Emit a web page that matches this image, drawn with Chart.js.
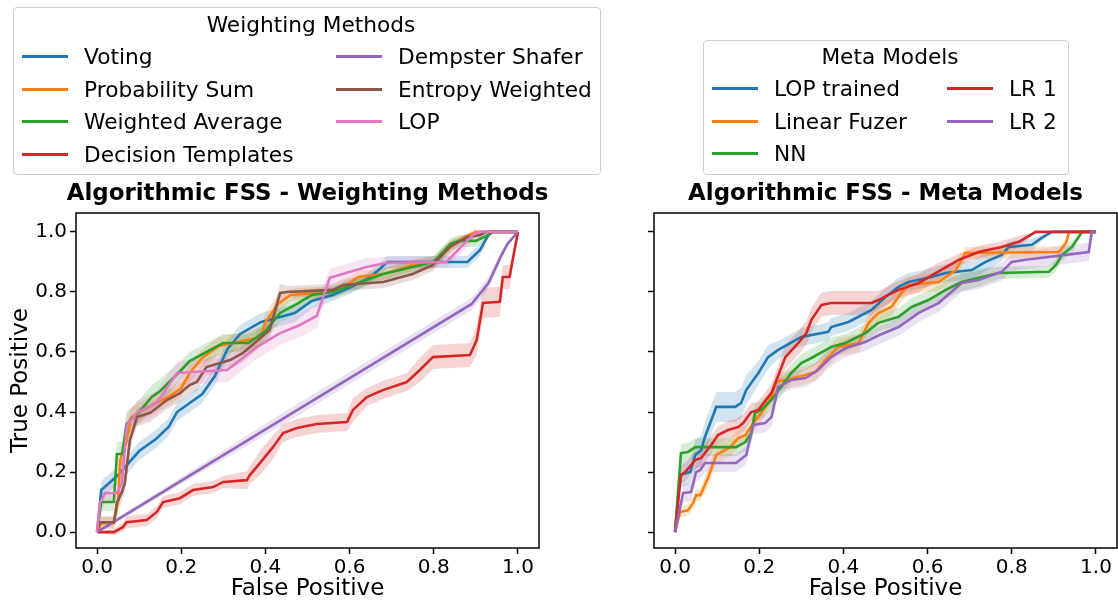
<!DOCTYPE html>
<html lang="en">
<head>
<meta charset="UTF-8">
<title>Algorithmic FSS - ROC</title>
<script src="https://cdn.jsdelivr.net/npm/chart.js"></script>
<style>
  body { margin: 0; background: #fff; font-family: 'DejaVu Sans', sans-serif; }
  #wrap { position: relative; width: 1118px; height: 604px; overflow: hidden; }
  canvas { position: absolute; top: 0; }
  .legend { position: absolute; box-sizing: border-box; border: 1px solid #cccccc; border-radius: 4px;
            background: rgba(255,255,255,0.8); font-size: 21.7px; color: #000; z-index: 2; }
  .legend .ttl { text-align: center; height: 30px; line-height: 30px; }
  .legend .items { display: grid; grid-auto-flow: column; }
  .legend .item { height: 32.7px; display: flex; align-items: center; white-space: nowrap; }
  .legend .swatch { width: 46px; height: 3px; margin-right: 16px; flex: none; }
</style>
</head>
<body>
<div id="wrap">
  <canvas id="weightingChart" width="615" height="604" style="left:0px"></canvas>
  <canvas id="metaChart" width="538" height="604" style="left:617px"></canvas>
  <div class="legend" id="weightingLegend" style="left:13px; top:7px; width:588px; height:168px; padding:2px 0 0 8px;"></div>
  <div class="legend" id="metaLegend" style="left:703px; top:40px; width:366px; height:135px; padding:1px 0 0 8px;"></div>
</div>

<script>
const FONT = "'DejaVu Sans', sans-serif";

const fprTicks = [0, 0.2, 0.4, 0.6, 0.8, 1.0];
const tprTicks = [0, 0.2, 0.4, 0.6, 0.8, 1.0];

const weightingNames = ['Voting', 'Probability Sum', 'Weighted Average', 'Decision Templates',
                        'Dempster Shafer', 'Entropy Weighted', 'LOP'];
const metaNames = ['LOP trained', 'Linear Fuzer', 'NN', 'LR 1', 'LR 2'];

const weightingColors = ['#1f77b4', '#ff7f0e', '#2ca02c', '#d62728', '#9467bd', '#8c564b', '#e377c2'];
const metaColors = ['#1f77b4', '#ff7f0e', '#2ca02c', '#d62728', '#9467bd'];

// each point: [false positive, mean true positive, std]
const voting = [[0,0,0],[0.01,0.14,0.03],[0.05,0.19,0.03],[0.1,0.27,0.03],[0.14,0.31,0.03],[0.17,0.35,0.03],
  [0.19,0.40,0.03],[0.25,0.46,0.03],[0.28,0.52,0.03],[0.31,0.61,0.03],[0.34,0.66,0.03],[0.39,0.70,0.03],
  [0.47,0.73,0.03],[0.51,0.77,0.025],[0.56,0.79,0.02],[0.61,0.82,0.02],[0.65,0.85,0.02],[0.69,0.90,0.02],
  [0.88,0.90,0.02],[0.91,0.94,0.02],[0.93,0.99,0.01],[0.94,1.0,0],[1,1,0]];
const probabilitySum = [[0,0,0],[0.01,0.03,0.02],[0.04,0.03,0.02],[0.05,0.10,0.03],[0.055,0.24,0.03],
  [0.07,0.30,0.04],[0.08,0.38,0.03],[0.1,0.40,0.03],[0.14,0.43,0.03],[0.17,0.45,0.03],[0.2,0.48,0.03],
  [0.22,0.53,0.03],[0.25,0.58,0.03],[0.29,0.62,0.03],[0.39,0.65,0.03],[0.40,0.70,0.03],[0.43,0.76,0.03],
  [0.46,0.79,0.02],[0.55,0.80,0.02],[0.58,0.81,0.02],[0.62,0.85,0.02],[0.68,0.86,0.02],[0.75,0.89,0.02],
  [0.8,0.90,0.02],[0.84,0.95,0.02],[0.87,0.98,0.01],[0.9,1.0,0],[1,1,0]];
const weightedAverage = [[0,0,0],[0.01,0.10,0.03],[0.04,0.10,0.03],[0.047,0.26,0.04],[0.06,0.26,0.04],
  [0.07,0.36,0.04],[0.1,0.40,0.04],[0.13,0.45,0.04],[0.15,0.47,0.04],[0.2,0.54,0.03],[0.22,0.57,0.03],
  [0.26,0.60,0.03],[0.3,0.63,0.03],[0.36,0.63,0.03],[0.4,0.67,0.03],[0.435,0.73,0.03],[0.475,0.76,0.03],
  [0.51,0.79,0.02],[0.56,0.80,0.02],[0.6,0.82,0.02],[0.68,0.86,0.02],[0.74,0.88,0.02],[0.8,0.90,0.02],
  [0.84,0.96,0.02],[0.86,0.97,0.02],[0.9,0.97,0.02],[0.93,0.99,0.01],[0.94,1.0,0],[1,1,0]];
const decisionTemplates = [[0,0,0],[0.04,0,0.01],[0.062,0.017,0.015],[0.07,0.033,0.02],[0.118,0.04,0.02],
  [0.142,0.067,0.02],[0.157,0.10,0.02],[0.197,0.113,0.02],[0.228,0.14,0.02],[0.276,0.15,0.02],[0.30,0.167,0.02],
  [0.356,0.173,0.03],[0.363,0.19,0.03],[0.387,0.23,0.04],[0.418,0.283,0.04],[0.442,0.33,0.03],[0.475,0.347,0.03],
  [0.522,0.36,0.03],[0.594,0.367,0.03],[0.608,0.407,0.04],[0.641,0.45,0.03],[0.679,0.473,0.03],[0.736,0.50,0.03],
  [0.767,0.54,0.04],[0.798,0.583,0.04],[0.886,0.59,0.04],[0.902,0.64,0.05],[0.917,0.763,0.05],[0.957,0.767,0.05],
  [0.964,0.85,0.04],[0.98,0.85,0.04],[1,1,0]];
const dempsterShafer = [[0,0,0.005],[0.45,0.385,0.02],[0.89,0.76,0.02],[0.93,0.83,0.02],[0.96,0.92,0.015],
  [0.975,0.96,0.01],[1,1,0]];
const entropyWeighted = [[0,0,0],[0.007,0.033,0.02],[0.04,0.033,0.02],[0.047,0.097,0.03],[0.059,0.133,0.03],
  [0.066,0.163,0.03],[0.078,0.307,0.04],[0.095,0.383,0.03],[0.126,0.397,0.03],[0.166,0.44,0.03],[0.197,0.463,0.03],
  [0.22,0.49,0.03],[0.237,0.50,0.03],[0.26,0.55,0.03],[0.316,0.573,0.03],[0.347,0.597,0.03],[0.41,0.673,0.03],
  [0.435,0.797,0.03],[0.451,0.80,0.02],[0.56,0.807,0.02],[0.585,0.823,0.02],[0.68,0.833,0.02],[0.75,0.86,0.02],
  [0.798,0.89,0.02],[0.838,0.95,0.02],[0.879,0.983,0.01],[0.91,0.99,0.01],[0.926,1.0,0],[1,1,0]];
const lop = [[0,0,0],[0.007,0.097,0.03],[0.019,0.13,0.03],[0.047,0.13,0.03],[0.059,0.163,0.03],[0.071,0.357,0.04],
  [0.097,0.40,0.04],[0.142,0.43,0.04],[0.19,0.53,0.04],[0.309,0.54,0.04],[0.34,0.573,0.04],[0.38,0.617,0.04],
  [0.435,0.663,0.04],[0.482,0.69,0.04],[0.522,0.72,0.04],[0.553,0.847,0.03],[0.64,0.883,0.03],[0.689,0.897,0.02],
  [0.83,0.90,0.02],[0.893,0.99,0.02],[0.91,1.0,0],[1,1,0]];

const lopTrained = [[0,0,0],[0.012,0.19,0.04],[0.036,0.20,0.04],[0.048,0.257,0.05],[0.062,0.273,0.05],
  [0.071,0.317,0.05],[0.098,0.417,0.05],[0.143,0.417,0.05],[0.157,0.43,0.05],[0.169,0.473,0.05],[0.198,0.53,0.04],
  [0.221,0.583,0.04],[0.245,0.607,0.03],[0.30,0.65,0.03],[0.364,0.667,0.03],[0.371,0.683,0.03],[0.412,0.70,0.03],
  [0.467,0.74,0.03],[0.50,0.783,0.03],[0.531,0.817,0.03],[0.555,0.833,0.03],[0.602,0.847,0.03],[0.643,0.863,0.03],
  [0.705,0.873,0.03],[0.738,0.90,0.03],[0.776,0.923,0.02],[0.793,0.95,0.02],[0.848,0.957,0.02],[0.871,0.98,0.01],
  [0.895,1.0,0],[1,1,0]];
const linearFuzer = [[0,0,0],[0.012,0.067,0.02],[0.031,0.073,0.02],[0.043,0.097,0.02],[0.05,0.123,0.02],
  [0.06,0.123,0.02],[0.079,0.183,0.03],[0.098,0.257,0.03],[0.131,0.283,0.03],[0.15,0.313,0.03],[0.167,0.323,0.03],
  [0.186,0.363,0.03],[0.205,0.397,0.03],[0.229,0.45,0.03],[0.24,0.50,0.03],[0.31,0.523,0.03],[0.333,0.533,0.03],
  [0.357,0.573,0.03],[0.388,0.617,0.03],[0.436,0.63,0.03],[0.46,0.697,0.03],[0.483,0.73,0.03],[0.514,0.75,0.03],
  [0.538,0.797,0.03],[0.555,0.823,0.03],[0.626,0.833,0.03],[0.667,0.873,0.03],[0.69,0.93,0.02],[0.912,0.933,0.02],
  [0.929,0.963,0.01],[0.936,1.0,0],[1,1,0]];
const nn = [[0,0,0],[0.014,0.263,0.03],[0.031,0.267,0.03],[0.048,0.283,0.03],[0.145,0.283,0.03],[0.167,0.30,0.03],
  [0.181,0.33,0.03],[0.19,0.397,0.03],[0.205,0.407,0.03],[0.229,0.44,0.03],[0.252,0.483,0.03],[0.276,0.53,0.03],
  [0.30,0.563,0.03],[0.324,0.58,0.03],[0.371,0.617,0.03],[0.405,0.63,0.03],[0.452,0.663,0.03],[0.483,0.697,0.03],
  [0.531,0.717,0.03],[0.562,0.75,0.03],[0.602,0.773,0.03],[0.643,0.807,0.03],[0.681,0.833,0.03],[0.721,0.847,0.03],
  [0.769,0.863,0.02],[0.888,0.867,0.02],[0.905,0.89,0.02],[0.919,0.923,0.02],[0.943,0.95,0.02],[0.967,1.0,0],[1,1,0]];
const lr1 = [[0,0,0],[0.014,0.19,0.03],[0.024,0.20,0.03],[0.048,0.24,0.03],[0.062,0.247,0.03],[0.086,0.29,0.03],
  [0.102,0.323,0.03],[0.126,0.34,0.03],[0.15,0.35,0.03],[0.162,0.363,0.03],[0.181,0.40,0.03],[0.198,0.407,0.03],
  [0.229,0.463,0.03],[0.262,0.583,0.04],[0.293,0.63,0.04],[0.312,0.663,0.04],[0.324,0.707,0.04],[0.348,0.757,0.04],
  [0.371,0.763,0.04],[0.467,0.763,0.04],[0.483,0.773,0.03],[0.507,0.79,0.03],[0.531,0.807,0.03],[0.579,0.83,0.03],
  [0.619,0.863,0.03],[0.674,0.907,0.02],[0.721,0.933,0.02],[0.776,0.95,0.02],[0.817,0.967,0.02],[0.857,1.0,0],[1,1,0]];
const lr2 = [[0,0,0],[0.019,0.13,0.03],[0.038,0.133,0.03],[0.05,0.20,0.03],[0.06,0.207,0.03],[0.071,0.23,0.03],
  [0.145,0.23,0.03],[0.169,0.257,0.03],[0.186,0.357,0.03],[0.214,0.363,0.03],[0.229,0.383,0.03],[0.245,0.483,0.03],
  [0.276,0.507,0.03],[0.31,0.513,0.03],[0.34,0.54,0.03],[0.371,0.583,0.03],[0.405,0.613,0.03],[0.452,0.633,0.03],
  [0.483,0.655,0.03],[0.531,0.683,0.03],[0.579,0.73,0.03],[0.626,0.763,0.03],[0.681,0.83,0.03],[0.721,0.84,0.03],
  [0.776,0.867,0.03],[0.80,0.90,0.03],[0.833,0.907,0.03],[0.983,0.933,0.03],[0.99,1.0,0],[1,1,0]];

const weightingCurves = [voting, probabilitySum, weightedAverage, decisionTemplates, dempsterShafer, entropyWeighted, lop];
const metaCurves = [lopTrained, linearFuzer, nn, lr1, lr2];

function rgba(hex, a) {
  const n = parseInt(hex.slice(1), 16);
  return 'rgba(' + (n >> 16) + ',' + ((n >> 8) & 255) + ',' + (n & 255) + ',' + a + ')';
}

function buildDatasets(names, curves, colors) {
  const sets = [];
  curves.forEach((c, i) => {
    // shaded std band: upper edge, then lower edge filled back to it
    sets.push({ label: names[i] + ' +std', isBand: true, data: c.map(p => ({ x: p[0], y: p[1] + p[2] })),
      borderWidth: 0, borderColor: 'transparent', pointRadius: 0, fill: false, order: 100 - i });
    sets.push({ label: names[i] + ' -std', isBand: true, data: c.map(p => ({ x: p[0], y: p[1] - p[2] })),
      borderWidth: 0, borderColor: 'transparent', pointRadius: 0, fill: '-1',
      backgroundColor: rgba(colors[i], 0.2), order: 100 - i });
  });
  curves.forEach((c, i) => {
    sets.push({ label: names[i], data: c.map(p => ({ x: p[0], y: p[1] })), borderColor: colors[i],
      backgroundColor: colors[i], borderWidth: 2.6, pointRadius: 0, fill: false, tension: 0, order: 50 - i });
  });
  return sets;
}

// axes frame on all four sides + subplot title centred over the plot area
const frame = {
  id: 'frame',
  afterDraw(chart, args, opts) {
    const { ctx, chartArea: a } = chart;
    ctx.save();
    ctx.strokeStyle = '#000';
    ctx.lineWidth = 1.5;
    ctx.strokeRect(a.left, a.top, a.right - a.left, a.bottom - a.top);
    ctx.fillStyle = '#000';
    ctx.font = 'bold 22.9px ' + FONT;
    ctx.textAlign = 'center';
    ctx.textBaseline = 'middle';
    ctx.fillText(opts.title, (a.left + a.right) / 2, a.top - 19);
    ctx.restore();
  }
};

function makeOptions(title, yWidth, padRight, withYLabels) {
  const tickGrid = { display: true, drawOnChartArea: false, drawTicks: true, tickLength: 6, tickWidth: 1.5, tickColor: '#000' };
  return {
    responsive: false,
    animation: false,
    layout: { padding: { top: 213, right: padRight, bottom: 0, left: 0 } },
    plugins: {
      legend: { display: false },
      tooltip: { enabled: false },
      frame: { title: title }
    },
    scales: {
      x: {
        type: 'linear', min: -0.05, max: 1.05,
        afterBuildTicks: s => { s.ticks = fprTicks.map(v => ({ value: v })); },
        afterFit: s => { s.height = 56; },
        grid: tickGrid, border: { display: false },
        ticks: { color: '#000', font: { family: FONT, size: 20 }, padding: 2, maxRotation: 0,
                 callback: v => v.toFixed(1) },
        title: { display: true, text: 'False Positive', color: '#000', font: { family: FONT, size: 23 },
                 padding: { top: 0, bottom: 1 } }
      },
      y: {
        type: 'linear', min: -0.053, max: 1.063,
        afterBuildTicks: s => { s.ticks = tprTicks.map(v => ({ value: v })); },
        afterFit: s => { s.width = yWidth; },
        grid: tickGrid, border: { display: false },
        ticks: { display: withYLabels, color: '#000', font: { family: FONT, size: 20 }, padding: 3,
                 callback: v => v.toFixed(1) },
        title: { display: withYLabels, text: 'True Positive', color: '#000', font: { family: FONT, size: 23 },
                 padding: { top: 7, bottom: 0 } }
      }
    }
  };
}

function buildLegend(el, heading, chart, colWidth, rows) {
  const ttl = document.createElement('div');
  ttl.className = 'ttl';
  ttl.textContent = heading;
  el.appendChild(ttl);
  const items = document.createElement('div');
  items.className = 'items';
  items.style.gridTemplateColumns = colWidth + 'px auto';
  items.style.gridTemplateRows = 'repeat(' + rows + ', 32.7px)';
  chart.data.datasets.filter(d => !d.isBand).forEach(d => {
    const it = document.createElement('div');
    it.className = 'item';
    const sw = document.createElement('span');
    sw.className = 'swatch';
    sw.style.background = d.borderColor;
    const tx = document.createElement('span');
    tx.textContent = d.label;
    it.appendChild(sw);
    it.appendChild(tx);
    items.appendChild(it);
  });
  el.appendChild(items);
}

const weightingChart = new Chart(document.getElementById('weightingChart').getContext('2d'), {
  type: 'line',
  data: { datasets: buildDatasets(weightingNames, weightingCurves, weightingColors) },
  options: makeOptions('Algorithmic FSS - Weighting Methods', 76, 76, true),
  plugins: [frame]
});

const metaChart = new Chart(document.getElementById('metaChart').getContext('2d'), {
  type: 'line',
  data: { datasets: buildDatasets(metaNames, metaCurves, metaColors) },
  options: makeOptions('Algorithmic FSS - Meta Models', 37, 38, false),
  plugins: [frame]
});

buildLegend(document.getElementById('weightingLegend'), 'Weighting Methods', weightingChart, 314, 4);
buildLegend(document.getElementById('metaLegend'), 'Meta Models', metaChart, 235, 3);
</script>
</body>
</html>
